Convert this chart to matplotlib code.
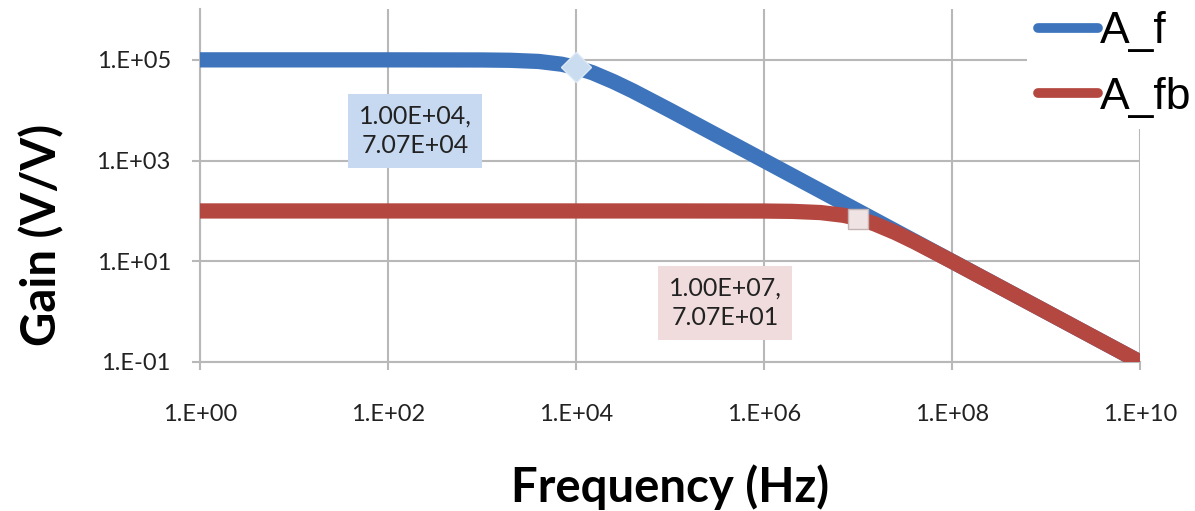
import numpy as np
import matplotlib.pyplot as plt

# values (log-log Bode plot)
freq = [1e0, 1e1, 1e2, 1e3, 2e3, 4e3, 7e3, 1e4, 1.5e4, 2.5e4, 4e4, 7e4,
        1e5, 1e6, 1e7, 1e8, 1e9, 1e10]
a_f = [1e5, 1e5, 1e5, 9.95e4, 9.8e4, 9.3e4, 8.2e4, 7.07e4, 5.55e4, 3.7e4,
       2.43e4, 1.41e4, 9.95e3, 1e3, 1e2, 1e1, 1e0, 1e-1]

freq_fb = [1e0, 1e1, 1e2, 1e3, 1e4, 1e5, 1e6, 2e6, 4e6, 7e6, 1e7, 1.5e7,
           2.5e7, 4e7, 7e7, 1e8, 1e9, 1e10]
a_fb = [99.9, 99.9, 99.9, 99.9, 99.9, 99.9, 99.5, 98.0, 92.8, 81.9, 70.7,
        55.5, 37.1, 24.3, 14.1, 9.95, 1.0, 0.1]

pt_f = (1e4, 7.07e4)
pt_fb = (1e7, 70.7)
xticks = [1e0, 1e2, 1e4, 1e6, 1e8, 1e10]
yticks = [1e-1, 1e1, 1e3, 1e5]
xticklabels = ['1.E+00', '1.E+02', '1.E+04', '1.E+06', '1.E+08', '1.E+10']
yticklabels = ['1.E-01', '1.E+01', '1.E+03', '1.E+05']

blue = '#3d74bc'
red = '#b4473f'
grid_c = '#b8b8b8'
W, H = 1195, 511

fig = plt.figure(figsize=(11.95, 5.11), dpi=100)
ax = fig.add_axes([200 / W, 1 - 362 / H, 940 / W, 352.5 / H])

ax.plot(freq, a_f, color=blue, lw=11, solid_capstyle='butt', label='A_f', zorder=3)
ax.plot(freq_fb, a_fb, color=red, lw=11, solid_capstyle='butt', label='A_fb', zorder=4)

ax.plot(*pt_f, marker='D', ms=15, mfc='#c9dcf0', mec='#dce8f5', mew=1, zorder=5)
ax.plot(*pt_fb, marker='s', ms=15, mfc='#efe3e3', mec='#c4b4b4', mew=1, zorder=5)

ax.set_xscale('log')
ax.set_yscale('log')
ax.set_xlim(1e0, 1e10)
ax.set_ylim(1e-1, 1e6)
ax.set_xticks(xticks)
ax.set_yticks(yticks)
ax.set_xticklabels(xticklabels)
ax.set_yticklabels(yticklabels)
ax.minorticks_off()
ax.grid(True, color=grid_c, lw=1.5)
ax.set_axisbelow(True)

for s in ['top', 'right']:
    ax.spines[s].set_visible(False)
for s in ['left', 'bottom']:
    ax.spines[s].set_color(grid_c)
    ax.spines[s].set_linewidth(1.5)
ax.tick_params(length=6, width=1.5, color=grid_c, labelsize=17, labelcolor='#222222')
ax.tick_params(axis='x', pad=24)
ax.tick_params(axis='y', pad=15)
for lab in ax.get_xticklabels() + ax.get_yticklabels():
    lab.set_family('Lato')

box_kw = dict(ha='center', va='center', fontsize=18, family='Lato', color='#222222',
              linespacing=1.35, textcoords='figure pixels', zorder=6)
ax.annotate('1.00E+04,\n7.07E+04', xy=pt_f, xytext=(415, H - 131),
            bbox=dict(boxstyle='square,pad=0.42', fc='#c6d9f0', ec='none'), **box_kw)
ax.annotate('1.00E+07,\n7.07E+01', xy=pt_fb, xytext=(725, H - 303),
            bbox=dict(boxstyle='square,pad=0.42', fc='#f0dcdc', ec='none'), **box_kw)

ax.set_xlabel('Frequency (Hz)', fontsize=34, fontweight='bold', family='Lato')
ax.set_ylabel('Gain (V/V)', fontsize=34, fontweight='bold', family='Lato')
ax.xaxis.label.set_va('center')
ax.yaxis.label.set_va('center')
ax.xaxis.set_label_coords(670 / W, 1 - 487 / H, transform=fig.transFigure)
ax.yaxis.set_label_coords(42 / W, 1 - 235 / H, transform=fig.transFigure)

leg = ax.legend(loc='upper left', bbox_to_anchor=(1027 / W, 1.0), bbox_transform=fig.transFigure,
                frameon=True, fancybox=False, edgecolor='none', facecolor='white', framealpha=1,
                prop={'family': 'Liberation Sans', 'size': 32}, handlelength=1.35,
                handletextpad=0.05, labelspacing=0.55, borderpad=0.25, borderaxespad=0)
for h in leg.legend_handles:
    h.set_linewidth(7)
    h.set_solid_capstyle('round')

fig.savefig('out.png', dpi=100)
